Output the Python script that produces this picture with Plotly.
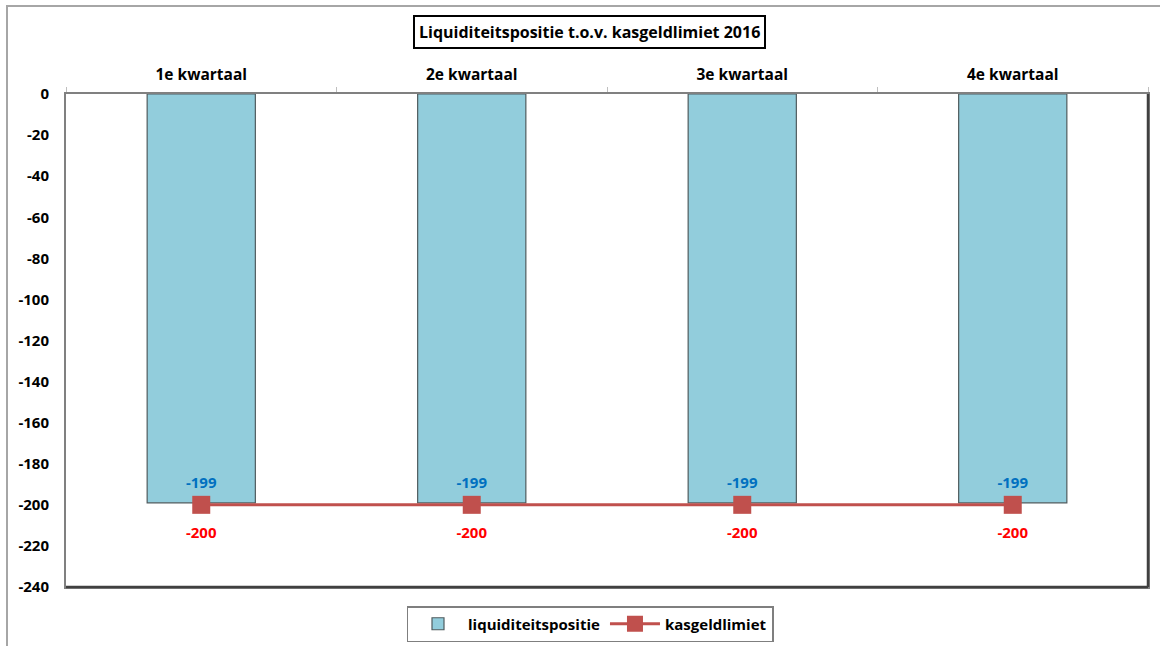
import plotly.graph_objects as go

categories = ["1e kwartaal", "2e kwartaal", "3e kwartaal", "4e kwartaal"]
liquiditeitspositie = [-199, -199, -199, -199]
kasgeldlimiet = [-200, -200, -200, -200]
y_ticks = list(range(0, -241, -20))

FONT = "Open Sans"

fig = go.Figure()
fig.add_trace(go.Bar(
    x=categories, y=liquiditeitspositie, name="liquiditeitspositie",
    marker=dict(color="#92CDDC", line=dict(color="#4F5B5E", width=1.2)),
    width=0.40,
))
fig.add_trace(go.Scatter(
    x=categories, y=kasgeldlimiet, name="kasgeldlimiet",
    mode="lines+markers",
    line=dict(color="#C0504D", width=3),
    marker=dict(symbol="square", size=18, color="#C0504D"),
    cliponaxis=False,
))
# data labels
fig.add_trace(go.Scatter(
    x=categories, y=liquiditeitspositie, mode="markers+text",
    marker=dict(size=16, opacity=0), showlegend=False, hoverinfo="skip",
    text=[str(v) for v in liquiditeitspositie], textposition="top center",
    textfont=dict(color="#0070C0", size=15, family=FONT, weight="bold"),
    cliponaxis=False,
))
fig.add_trace(go.Scatter(
    x=categories, y=kasgeldlimiet, mode="markers+text",
    marker=dict(size=34, opacity=0), showlegend=False, hoverinfo="skip",
    text=[str(v) for v in kasgeldlimiet], textposition="bottom center",
    textfont=dict(color="#FF0000", size=15, family=FONT, weight="bold"),
    cliponaxis=False,
))

L, R, T, B = 66, 1148, 94, 587
W, H = R - L, B - T
def px(x):
    return (x - L) / W
def py(y):
    return (B - y) / H

fig.update_layout(
    width=1160, height=646,
    margin=dict(l=L, r=1160 - R, t=T, b=646 - B, pad=0, autoexpand=False),
    paper_bgcolor="white", plot_bgcolor="white",
    font=dict(family=FONT, size=14, color="black"),
    showlegend=True,
    legend=dict(
        orientation="h", x=px(590), xanchor="center", y=py(606), yanchor="top",
        bordercolor="#7F7F7F", borderwidth=1.5,
        font=dict(size=15, family=FONT, weight="bold"),
        itemwidth=50, tracegroupgap=0,
    ),
    bargap=0.6,
    xaxis=dict(
        type="category", side="top", range=[-0.5, 3.5],
        showline=True, linecolor="#808080", linewidth=2, mirror=True,
        showgrid=False, zeroline=False,
        ticks="outside", tickson="boundaries", ticklen=5, tickcolor="#BFBFBF",
        tickfont=dict(size=15.5, family=FONT, weight="bold"),
        ticklabelstandoff=6,
    ),
    yaxis=dict(
        range=[-240, 0], tickvals=y_ticks, ticktext=[str(v) for v in y_ticks],
        showline=True, linecolor="#808080", linewidth=2, mirror=True,
        showgrid=False, zeroline=False, ticks="",
        tickfont=dict(size=15, family=FONT, weight="bold"),
        ticklabelstandoff=12,
    ),
    annotations=[dict(
        text="<b>Liquiditeitspositie t.o.v. kasgeldlimiet 2016</b>",
        xref="paper", yref="paper", x=px(589.5), y=py(32),
        xanchor="center", yanchor="middle", showarrow=False,
        font=dict(size=16, family=FONT, color="black"),
        bordercolor="black", borderwidth=2, borderpad=4, bgcolor="white",
    )],
    shapes=[
        dict(type="rect", xref="paper", yref="paper",
             x0=px(7), x1=px(1170), y0=py(660), y1=py(6),
             line=dict(color="#A6A6A6", width=2), layer="below"),
        dict(type="line", xref="paper", yref="paper",
             x0=1, x1=1, y0=0, y1=1, line=dict(color="#404040", width=2.5)),
        dict(type="line", xref="paper", yref="paper",
             x0=0, x1=1, y0=0, y1=0, line=dict(color="#404040", width=2.5)),
    ],
)

fig.write_html("out.html")
